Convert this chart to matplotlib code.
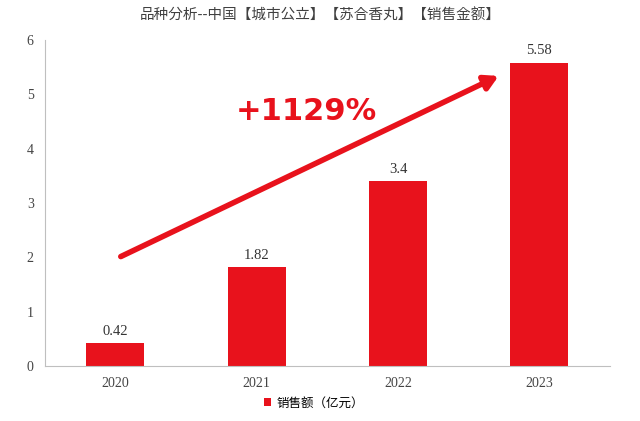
import matplotlib
matplotlib.use("Agg")
import matplotlib.pyplot as plt

years = ["2020", "2021", "2022", "2023"]
sales = [0.42, 1.82, 3.4, 5.58]
yticks = [0, 1, 2, 3, 4, 5, 6]
title = "品种分析--中国【城市公立】【苏合香丸】【销售金额】"
legend_label = "销售额（亿元）"
growth_label = "+1129%"

red = "#e8121c"
cjk = ["Noto Sans CJK SC", "Noto Sans CJK JP", "Noto Sans CJK TC", "Noto Sans CJK KR", "DejaVu Sans"]
serif = "Liberation Serif"

fig = plt.figure(figsize=(6.4, 4.21), dpi=100)
ax = fig.add_axes([0.07, 0.131, 0.883, 0.774])
x = range(len(years))
bars = ax.bar(x, sales, width=0.41, color=red, label=legend_label)
for xi, v in zip(x, sales):
    ax.text(xi, v + 0.1, f"{v:g}", ha="center", va="bottom", fontsize=10.5, family=serif, color="#333333")
ax.set_xlim(-0.5, 3.5)
ax.set_ylim(0, 6)
ax.set_yticks(yticks)
ax.set_xticks(list(x))
ax.set_xticklabels(years)
for lab in ax.get_xticklabels() + ax.get_yticklabels():
    lab.set_family(serif)
    lab.set_fontsize(10)
    lab.set_color("#444444")
ax.tick_params(length=0, pad=8)
for s in ["top", "right"]:
    ax.spines[s].set_visible(False)
for s in ["left", "bottom"]:
    ax.spines[s].set_color("#bfbfbf")

ax.annotate("", xy=(2.73, 5.36), xytext=(0.02, 1.99),
            arrowprops=dict(arrowstyle="-|>,head_length=0.8,head_width=0.45", color=red, lw=4))
ax.text(1.35, 4.68, growth_label, ha="center", va="center", fontsize=22, fontweight="bold",
        color=red, family="DejaVu Sans")

fig.text(0.5, 0.962, title, ha="center", va="center", fontsize=10.5, family=cjk, color="#404040")
leg = fig.legend(handles=[bars], labels=[legend_label], loc="center", bbox_to_anchor=(0.49, 0.043),
                 frameon=False, prop={"family": cjk, "size": 9}, handlelength=0.6, handleheight=0.6,
                 handletextpad=0.4)
fig.savefig("out.png", dpi=100)
